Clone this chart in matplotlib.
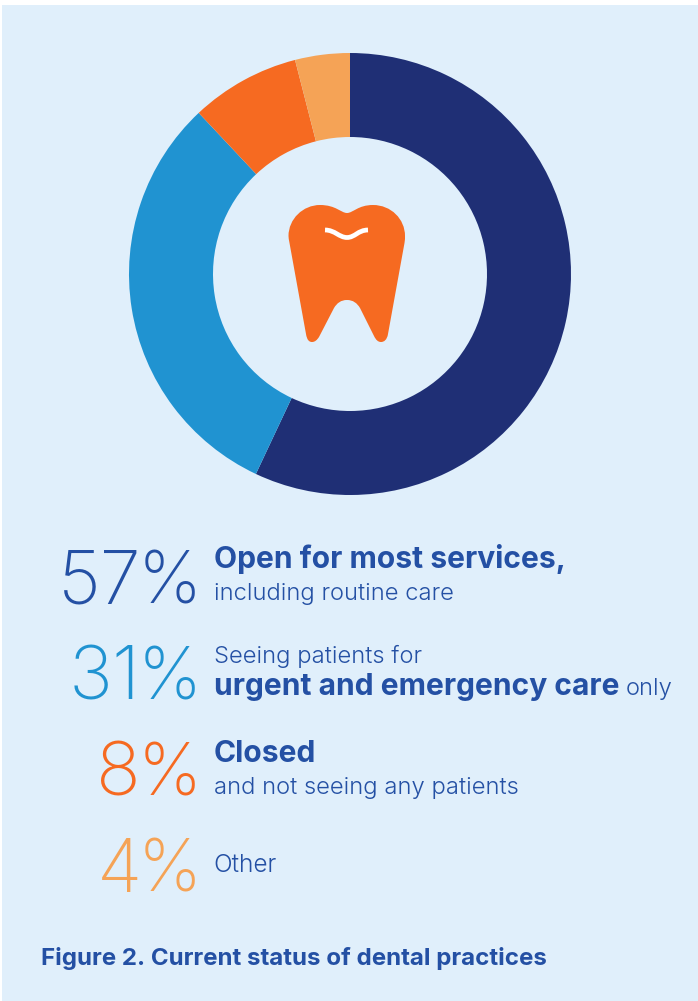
import matplotlib
matplotlib.use("Agg")
import matplotlib.pyplot as plt
from matplotlib.patches import PathPatch, Rectangle
from matplotlib.path import Path

W, H = 698, 1001

# Survey results
shares = [57, 31, 8, 4]
slice_colors = ["#1F2F75", "#2093D1", "#F66A21", "#F5A356"]
pct_digits = ["57", "31", "8", "4"]
pct_colors = ["#2450A4", "#2093D1", "#F66A21", "#F5A356"]
title_text = "Figure 2. Current status of dental practices"

BG = "#E0EFFB"
INK = "#2450A4"
THIN = dict(family="Inter", fontweight=200)
LIGHT = dict(family="Inter", fontweight=300)
BOLD = dict(family="Inter", fontweight="bold")


def y_up(py):
    return H - py


fig = plt.figure(figsize=(W / 100, H / 100), dpi=100, facecolor="white")
ax = fig.add_axes([0, 0, 1, 1])

ax.add_patch(Rectangle((2, 0), W - 2, H - 5, facecolor=BG, edgecolor="none", zorder=0))

# Donut
ax.pie(shares, colors=slice_colors, startangle=90, counterclock=False,
       center=(350, y_up(274)), radius=221,
       wedgeprops=dict(width=84, linewidth=0), frame=True)
ax.set_xlim(0, W)
ax.set_ylim(0, H)
ax.set_aspect("auto")
ax.set_axis_off()

# Tooth icon
M, L, C = Path.MOVETO, Path.LINETO, Path.CURVE4
tooth = [
    (M, 347, 213),
    (C, 353, 213), (C, 358, 205), (C, 373, 205),
    (C, 391, 205), (C, 405, 219), (C, 405, 236),
    (C, 405, 238), (C, 405, 240), (C, 404.5, 243),
    (L, 388, 334),
    (C, 387, 340), (C, 384, 342), (C, 381, 342),
    (C, 378, 342), (C, 376, 340), (C, 374, 336),
    (L, 360, 308),
    (C, 357, 303), (C, 353, 300), (C, 347, 300),
    (C, 341, 300), (C, 337, 303), (C, 334, 308),
    (L, 319, 337),
    (C, 317, 340), (C, 315, 342), (C, 312, 342),
    (C, 309, 342), (C, 307, 340), (C, 306, 334),
    (L, 289.5, 243),
    (C, 289, 240), (C, 288.5, 238), (C, 288.5, 236),
    (C, 288.5, 219), (C, 303, 205), (C, 320, 205),
    (C, 336, 205), (C, 341, 213), (C, 347, 213),
]
ax.add_patch(PathPatch(
    Path([(x, y_up(y)) for _, x, y in tooth], [c for c, _, _ in tooth]),
    facecolor="#F66A21", edgecolor="none", zorder=3))
groove = [(M, 325, 230), (C, 335, 230), (C, 339, 237.5), (C, 347, 237.5),
          (C, 355, 237.5), (C, 358, 230), (C, 368, 230)]
ax.add_patch(PathPatch(
    Path([(x, y_up(y)) for _, x, y in groove], [c for c, _, _ in groove]),
    facecolor="none", edgecolor="white", linewidth=3.4, capstyle="butt", zorder=4))


def px_text(x, py, s, size_px, color, style, ha="left"):
    ax.text(x, y_up(py), s, fontsize=size_px * 0.72, color=color, ha=ha,
            va="baseline", zorder=5, **style)


# Large percentages: digits and sign are placed on their own
for digits, color, base, left in zip(pct_digits, pct_colors,
                                     [603, 700, 796, 892], [58, 69, 96, 97]):
    px_text(left, base, digits, 74, color, THIN)
    px_text(202, base, "%", 72, color, THIN, ha="right")

# Descriptions
px_text(214, 568, "Open for most services,", 30, INK, BOLD)
px_text(214, 600, "including routine care", 23.8, INK, LIGHT)
px_text(214, 663, "Seeing patients for", 23.8, INK, LIGHT)
px_text(214, 695, "urgent and emergency care", 30, INK, BOLD)
px_text(626, 695, "only", 23.8, INK, LIGHT)
px_text(214, 762, "Closed", 30, INK, BOLD)
px_text(214, 794, "and not seeing any patients", 23.8, INK, LIGHT)
px_text(213, 872, "Other", 24.5, INK, LIGHT)

px_text(41, 965, title_text, 24.1, INK, BOLD)

fig.savefig("out.png", dpi=100, facecolor="white")
